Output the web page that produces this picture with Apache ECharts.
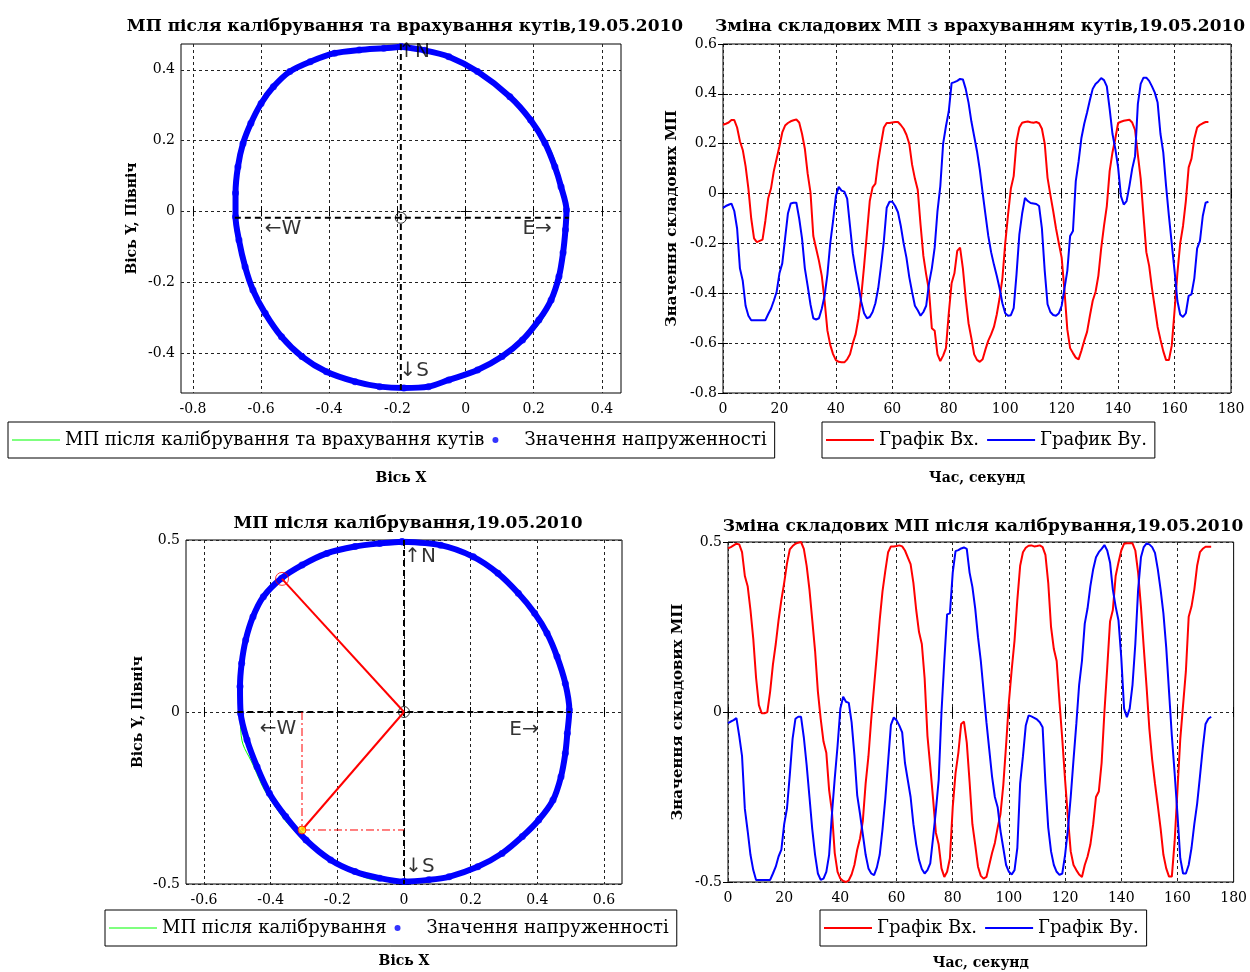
<!DOCTYPE html>
<html><head><meta charset="utf-8">
<script src="https://cdn.jsdelivr.net/npm/echarts@6/dist/echarts.min.js"></script>
<style>html,body{margin:0;padding:0;background:#fff}#c{width:1250px;height:972px}</style>
</head><body><div id="c"></div>
<script>
// ---------- data (sampled each second, 0..172 s) ----------
const seconds = Array.from({length:173},(_, i)=>i);

// Components after calibration and angle correction (top charts)
const bxTop = [0.276,0.28,0.285,0.295,0.295,0.265,0.21,0.175,0.11,0.02,
 -0.1,-0.18,-0.195,-0.19,-0.185,-0.11,-0.02,0.02,0.09,0.14,
 0.19,0.245,0.273,0.283,0.29,0.294,0.297,0.285,0.24,0.18,
 0.08,0.005,-0.17,-0.22,-0.27,-0.33,-0.43,-0.55,-0.607,-0.644,
 -0.668,-0.675,-0.677,-0.677,-0.665,-0.645,-0.6,-0.564,-0.5,-0.41,
 -0.29,-0.16,-0.03,0.025,0.04,0.13,0.2,0.265,0.283,0.283,
 0.285,0.287,0.287,0.275,0.26,0.236,0.2,0.116,0.06,0.015,
 -0.125,-0.25,-0.325,-0.39,-0.54,-0.55,-0.645,-0.672,-0.65,-0.62,
 -0.48,-0.36,-0.32,-0.23,-0.217,-0.3,-0.42,-0.52,-0.58,-0.645,
 -0.667,-0.675,-0.665,-0.625,-0.59,-0.565,-0.535,-0.485,-0.42,-0.34,
 -0.2,-0.085,0.02,0.07,0.209,0.265,0.284,0.287,0.289,0.286,
 0.284,0.287,0.282,0.26,0.2,0.063,-0.005,-0.07,-0.14,-0.2,
 -0.257,-0.39,-0.545,-0.62,-0.64,-0.658,-0.665,-0.63,-0.59,-0.555,
 -0.49,-0.43,-0.395,-0.33,-0.22,-0.13,-0.05,0.09,0.165,0.22,
 0.283,0.288,0.292,0.294,0.296,0.285,0.255,0.155,0.06,-0.09,
 -0.235,-0.29,-0.38,-0.457,-0.535,-0.585,-0.632,-0.668,-0.668,-0.61,
 -0.47,-0.32,-0.2,-0.13,-0.03,0.105,0.14,0.22,0.265,0.276,
 0.282,0.287,0.287];
const byTop = [-0.057,-0.05,-0.045,-0.04,-0.07,-0.14,-0.3,-0.35,-0.45,-0.49,
 -0.508,-0.508,-0.508,-0.508,-0.508,-0.508,-0.484,-0.462,-0.43,-0.395,
 -0.32,-0.28,-0.18,-0.08,-0.04,-0.037,-0.037,-0.1,-0.18,-0.3,
 -0.37,-0.445,-0.5,-0.505,-0.5,-0.462,-0.41,-0.324,-0.2,-0.11,
 -0.01,0.027,0.012,0.008,-0.02,-0.13,-0.24,-0.31,-0.37,-0.435,
 -0.48,-0.5,-0.495,-0.475,-0.44,-0.38,-0.29,-0.19,-0.057,-0.033,
 -0.033,-0.05,-0.075,-0.13,-0.2,-0.257,-0.335,-0.395,-0.45,-0.468,
 -0.49,-0.475,-0.45,-0.36,-0.3,-0.217,-0.07,0.03,0.2,0.27,
 0.33,0.443,0.447,0.452,0.46,0.458,0.42,0.365,0.29,0.23,
 0.17,0.095,0.003,-0.084,-0.17,-0.235,-0.285,-0.33,-0.38,-0.44,
 -0.48,-0.49,-0.488,-0.46,-0.324,-0.165,-0.08,-0.017,-0.03,-0.038,
 -0.04,-0.042,-0.05,-0.14,-0.31,-0.444,-0.475,-0.487,-0.49,-0.48,
 -0.45,-0.38,-0.31,-0.17,-0.15,0.05,0.129,0.223,0.28,0.325,
 0.375,0.42,0.44,0.45,0.463,0.455,0.43,0.34,0.24,0.18,
 0.105,-0.01,-0.044,-0.03,0.03,0.1,0.15,0.36,0.44,0.465,
 0.465,0.452,0.43,0.405,0.365,0.24,0.165,0.03,-0.09,-0.2,
 -0.31,-0.43,-0.485,-0.495,-0.48,-0.41,-0.404,-0.34,-0.22,-0.19,
 -0.09,-0.037,-0.033];

// Components after calibration (bottom charts)
const bxBot = [0.481,0.485,0.49,0.495,0.493,0.47,0.4,0.37,0.3,0.215,
 0.1,0.02,-0.004,-0.004,0.0,0.06,0.14,0.2,0.27,0.33,
 0.38,0.437,0.478,0.488,0.495,0.498,0.5,0.48,0.43,0.36,
 0.27,0.18,0.06,-0.02,-0.087,-0.12,-0.23,-0.293,-0.415,-0.47,
 -0.49,-0.497,-0.5,-0.495,-0.478,-0.45,-0.405,-0.372,-0.32,-0.21,
 -0.13,-0.02,0.075,0.17,0.27,0.355,0.415,0.47,0.487,0.487,
 0.488,0.49,0.487,0.475,0.455,0.435,0.38,0.3,0.235,0.2,
 0.099,-0.07,-0.16,-0.255,-0.355,-0.39,-0.46,-0.485,-0.47,-0.43,
 -0.28,-0.18,-0.12,-0.035,-0.028,-0.09,-0.205,-0.33,-0.39,-0.455,
 -0.482,-0.49,-0.485,-0.45,-0.415,-0.385,-0.34,-0.3,-0.215,-0.097,
 0.03,0.125,0.21,0.33,0.43,0.47,0.483,0.489,0.49,0.487,
 0.488,0.49,0.485,0.462,0.38,0.25,0.185,0.15,0.03,-0.08,
 -0.2,-0.31,-0.41,-0.45,-0.465,-0.478,-0.485,-0.45,-0.425,-0.39,
 -0.33,-0.25,-0.234,-0.15,0.0,0.13,0.266,0.3,0.4,0.44,
 0.475,0.495,0.496,0.496,0.496,0.475,0.41,0.31,0.19,0.075,
 -0.05,-0.14,-0.21,-0.275,-0.342,-0.42,-0.46,-0.484,-0.484,-0.38,
 -0.23,-0.08,0.02,0.12,0.28,0.31,0.36,0.43,0.47,0.48,
 0.486,0.486,0.486];
const byBot = [-0.033,-0.028,-0.024,-0.018,-0.07,-0.13,-0.285,-0.35,-0.42,-0.465,
 -0.494,-0.494,-0.494,-0.494,-0.494,-0.494,-0.475,-0.455,-0.425,-0.405,
 -0.33,-0.283,-0.185,-0.078,-0.02,-0.014,-0.014,-0.075,-0.156,-0.25,
 -0.345,-0.42,-0.475,-0.494,-0.49,-0.47,-0.42,-0.3,-0.195,-0.1,
 0.01,0.045,0.03,0.027,-0.03,-0.126,-0.245,-0.3,-0.36,-0.42,
 -0.46,-0.475,-0.48,-0.457,-0.42,-0.345,-0.255,-0.146,-0.038,-0.016,
 -0.024,-0.04,-0.06,-0.15,-0.2,-0.25,-0.33,-0.39,-0.435,-0.462,
 -0.475,-0.465,-0.445,-0.37,-0.29,-0.2,0.0,0.15,0.287,0.29,
 0.41,0.473,0.476,0.481,0.484,0.48,0.41,0.368,0.305,0.22,
 0.15,0.06,-0.03,-0.11,-0.19,-0.25,-0.28,-0.35,-0.4,-0.45,
 -0.47,-0.478,-0.465,-0.4,-0.21,-0.13,-0.04,-0.01,-0.013,-0.017,
 -0.022,-0.03,-0.045,-0.21,-0.34,-0.41,-0.45,-0.47,-0.479,-0.475,
 -0.42,-0.345,-0.25,-0.14,-0.035,0.08,0.15,0.26,0.305,0.37,
 0.42,0.455,0.47,0.48,0.491,0.475,0.44,0.36,0.31,0.27,
 0.16,0.01,-0.015,0.01,0.08,0.2,0.36,0.455,0.485,0.496,
 0.493,0.485,0.468,0.42,0.36,0.29,0.19,0.06,-0.07,-0.18,
 -0.3,-0.43,-0.475,-0.475,-0.45,-0.4,-0.33,-0.27,-0.19,-0.107,
 -0.035,-0.02,-0.014];

const ringTop = [[-0.189,0.465],[-0.12,0.455],[-0.049,0.437],[0.035,0.395],[0.13,0.324],[0.191,0.258],[0.233,0.193],
 [0.262,0.126],[0.28,0.07],[0.296,0.004],[0.293,-0.052],[0.286,-0.117],[0.274,-0.184],[0.251,-0.25],[0.215,-0.307],
 [0.167,-0.363],[0.107,-0.41],[0.035,-0.448],[-0.049,-0.476],[-0.109,-0.495],[-0.181,-0.499],[-0.252,-0.495],
 [-0.324,-0.481],[-0.408,-0.453],[-0.48,-0.41],[-0.54,-0.354],[-0.588,-0.288],[-0.624,-0.222],[-0.647,-0.156],
 [-0.665,-0.081],[-0.675,-0.015],[-0.675,0.052],[-0.668,0.126],[-0.653,0.192],[-0.63,0.249],[-0.6,0.305],
 [-0.564,0.352],[-0.516,0.395],[-0.456,0.423],[-0.384,0.447],[-0.312,0.456],[-0.24,0.461],[-0.189,0.465]];
const ringBot = [[-0.006,0.495],[0.11,0.485],[0.208,0.451],[0.282,0.403],[0.343,0.345],[0.392,0.287],[0.429,0.229],
 [0.459,0.161],[0.484,0.083],[0.496,0.006],[0.49,-0.062],[0.484,-0.12],[0.471,-0.188],[0.447,-0.256],[0.404,-0.314],
 [0.355,-0.362],[0.294,-0.411],[0.221,-0.45],[0.135,-0.479],[0.074,-0.488],[0.0,-0.493],[-0.073,-0.483],
 [-0.147,-0.464],[-0.22,-0.43],[-0.294,-0.372],[-0.355,-0.304],[-0.404,-0.236],[-0.441,-0.159],[-0.471,-0.081],
 [-0.49,-0.004],[-0.492,0.074],[-0.487,0.142],[-0.475,0.209],[-0.453,0.277],[-0.422,0.335],[-0.367,0.389],
 [-0.306,0.427],[-0.232,0.461],[-0.147,0.481],[-0.073,0.49],[-0.006,0.495]];

// Fitted field curves (green)
const fitTop = [[0.296,0.0],[0.27,0.12],[0.22,0.22],[0.13,0.324],[0.03,0.4],[-0.08,0.445],[-0.19,0.465],[-0.3,0.458],
 [-0.43,0.43],[-0.55,0.36],[-0.63,0.25],[-0.667,0.12],[-0.677,-0.02],[-0.66,-0.12],[-0.62,-0.23],[-0.54,-0.35],
 [-0.42,-0.445],[-0.3,-0.488],[-0.18,-0.502],[-0.06,-0.48],[0.06,-0.44],[0.17,-0.365],[0.25,-0.26],[0.285,-0.14],[0.296,0.0]];
const fitBot = [[0.498,0],[0.482,0.09],[0.45,0.18],[0.39,0.29],[0.29,0.4],[0.16,0.47],[0,0.497],[-0.15,0.482],
 [-0.3,0.43],[-0.42,0.335],[-0.475,0.21],[-0.493,0.07],[-0.49,-0.05],[-0.45,-0.16],[-0.39,-0.27],[-0.3,-0.37],
 [-0.18,-0.45],[-0.05,-0.49],[0.08,-0.488],[0.22,-0.45],[0.35,-0.365],[0.44,-0.26],[0.48,-0.14],[0.498,0]];

// Reference cross, centres, compass labels
const crossTopH = [[-0.677,-0.018],[0.303,-0.018]];
const crossTopV = [[-0.19,0.473],[-0.19,-0.513]];
const centreTop = [-0.19,-0.018];
const crossBotH = [[-0.5,0],[0.5,0]];
const crossBotV = [[0,0.5],[0,-0.5]];
const centreBot = [0,0];
const compassTop = [['↑N',-0.151,0.452],['←W',-0.536,-0.05],['E→',0.21,-0.05],['↓S',-0.151,-0.451]];
const compassBot = [['↑N',0.048,0.452],['←W',-0.378,-0.049],['E→',0.36,-0.052],['↓S',0.048,-0.45]];
// Angle construction (bottom-left)
const vecA = [[0,0],[-0.366,0.387]];
const vecB = [[0,0],[-0.306,-0.343]];
const projV = [[-0.306,0],[-0.306,-0.343]];
const projH = [[-0.306,-0.343],[0,-0.343]];

// Ticks
const xTicksTL = [-0.8,-0.6,-0.4,-0.2,0,0.2,0.4];
const yTicksTL = [-0.4,-0.2,0,0.2,0.4];
const xTicksBL = [-0.6,-0.4,-0.2,0,0.2,0.4,0.6];
const yTicksBL = [-0.5,0,0.5];

// ---------- chart ----------
const FONT = 'DejaVu Serif';
const zip = (a,b)=>a.map((v,i)=>[v,b[i]]);
const NFT = 'МП після калібрування та врахування кутів';
const NFB = 'МП після калібрування';
const ND = 'Значення напруженності';
const NBX = 'Графік Вх.';
const NBY1 = 'График Ву.';
const NBY2 = 'Графік Ву.';

function axis(kind, gi, cfg, mirror){
  const a = {
    type:'value', gridIndex:gi, min:cfg.min, max:cfg.max,
    position: mirror ? (kind==='x'?'top':'right') : (kind==='x'?'bottom':'left'),
    axisLine:{show:false},
    axisTick:{show:true, inside:true, length:5, lineStyle:{color:'#000'}},
    axisLabel:{show:!mirror, color:'#000', fontFamily:FONT, fontSize:14, margin:kind==='x'?9:6},
    splitLine:{show:!mirror, lineStyle:{color:'#222', type:[3,3], width:1}}
  };
  if (cfg.ticks){ a.axisTick.customValues = cfg.ticks; a.axisLabel.customValues = cfg.ticks; }
  else a.interval = cfg.interval;
  if (!mirror && cfg.name){
    a.name = cfg.name; a.nameLocation='middle'; a.nameGap = cfg.gap;
    a.nameTextStyle = {fontFamily:FONT, fontWeight:'bold', fontSize:cfg.nfs||14, color:'#000'};
  }
  return a;
}
const xc = [
  {min:-0.835,max:0.456,ticks:xTicksTL,name:'Вісь X',gap:78},
  {min:0,max:180,interval:20,name:'Час, секунд',gap:78},
  {min:-0.654,max:0.654,ticks:xTicksBL,name:'Вісь X',gap:70},
  {min:0,max:180,interval:20,name:'Час, секунд',gap:74}
];
const yc = [
  {min:-0.513,max:0.473,ticks:yTicksTL,name:'Вісь Y, Північ',gap:42},
  {min:-0.8,max:0.6,interval:0.2,name:'Значення складових МП',gap:43,nfs:15},
  {min:-0.5,max:0.5,ticks:yTicksBL,name:'Вісь Y, Північ',gap:41},
  {min:-0.5,max:0.5,interval:0.5,name:'Значення складових МП',gap:42,nfs:15}
];
const xAxes = xc.map((c,i)=>axis('x',i,c,false)).concat(xc.map((c,i)=>axis('x',i,c,true)));
const yAxes = yc.map((c,i)=>axis('y',i,c,false)).concat(yc.map((c,i)=>axis('y',i,c,true)));

const gridBase = {show:true, borderColor:'#000', borderWidth:1, backgroundColor:'#fff'};
const grids = [
  Object.assign({left:181, top:44, width:440, height:349}, gridBase),
  Object.assign({left:723, top:44, width:508, height:349}, gridBase),
  Object.assign({left:186, top:540, width:436, height:344}, gridBase),
  Object.assign({left:728, top:542, width:509, height:340}, gridBase)
];

function seg(name, gi, data, color, width, type, z){
  return {type:'line', name, xAxisIndex:gi, yAxisIndex:gi, data, symbol:'none', silent:true,
    lineStyle:{color, width, type}, z:z||4, animation:false};
}
function circleSeries(gi, fit, fitName, ring, centre, crossH, crossV, compass){
  return [
    {type:'line', name:'band'+gi, xAxisIndex:gi, yAxisIndex:gi, data:ring, smooth:0.3, symbol:'none',
      lineStyle:{color:'#0000ff', width:6}, z:2, animation:false, silent:true},
    {type:'scatter', name:ND, xAxisIndex:gi, yAxisIndex:gi, data:ring, symbol:'circle', symbolSize:7,
      itemStyle:{color:'#0000ff'}, z:2, animation:false},
    {type:'line', name:fitName, xAxisIndex:gi, yAxisIndex:gi, data:fit, smooth:true, symbol:'none',
      lineStyle:{color:'#00ff00', width:1}, itemStyle:{color:'#00ff00'}, z:1, animation:false},
    seg('crossH'+gi, gi, crossH, '#000', 2, [6,4], 5),
    seg('crossV'+gi, gi, crossV, '#000', 2, [6,4], 5),
    {type:'scatter', name:'centre'+gi, xAxisIndex:gi, yAxisIndex:gi, data:[centre], symbol:'circle', symbolSize:11,
      itemStyle:{color:'rgba(0,0,0,0)', borderColor:'#000', borderWidth:1}, z:6, silent:true, animation:false},
    {type:'scatter', name:'compass'+gi, xAxisIndex:gi, yAxisIndex:gi, symbolSize:1,
      data:compass.map(c=>({name:c[0], value:[c[1],c[2]]})),
      itemStyle:{color:'rgba(0,0,0,0)'}, z:7, silent:true, animation:false,
      label:{show:true, position:'inside', formatter:p=>p.name, fontFamily:'DejaVu Sans', fontSize:20, color:'#000'}}
  ];
}

function tsSeries(name, gi, vals, color){
  return {type:'line', name, xAxisIndex:gi, yAxisIndex:gi, data:zip(seconds, vals), symbol:'none',
    lineStyle:{color, width:2}, itemStyle:{color}, animation:false};
}

const series = [].concat(
  circleSeries(0, fitTop, NFT, ringTop, centreTop, crossTopH, crossTopV, compassTop),
  circleSeries(2, fitBot, NFB, ringBot, centreBot, crossBotH, crossBotV, compassBot),
  [
    seg('vecA', 2, vecA, '#ff0000', 2, 'solid', 8),
    seg('vecB', 2, vecB, '#ff0000', 2, 'solid', 8),
    seg('projV', 2, projV, '#ff0000', 1, [8,3,2,3], 8),
    seg('projH', 2, projH, '#ff0000', 1, [8,3,2,3], 8),
    {type:'scatter', name:'markA', xAxisIndex:2, yAxisIndex:2, data:[vecA[1]], symbolSize:13,
      itemStyle:{color:'rgba(0,0,0,0)', borderColor:'#ff0000', borderWidth:1}, z:9, silent:true, animation:false},
    {type:'scatter', name:'markB', xAxisIndex:2, yAxisIndex:2, data:[vecB[1]], symbolSize:8,
      itemStyle:{color:'#ffee00', borderColor:'#ff0000', borderWidth:1}, z:9, silent:true, animation:false},
    tsSeries(NBX, 1, bxTop, '#ff0000'),
    tsSeries(NBY1, 1, byTop, '#0000ff'),
    tsSeries(NBX, 3, bxBot, '#ff0000'),
    tsSeries(NBY2, 3, byBot, '#0000ff')
  ]
);

const LINE1 = 'path://M0,0H48V1H0Z';
const LINE2 = 'path://M0,0H48V2.2H0Z';
const legBase = {orient:'horizontal', borderColor:'#000', borderWidth:1, padding:[9,8,9,4], itemGap:8,
  itemWidth:48, itemHeight:6, selectedMode:false, backgroundColor:'#fff',
  textStyle:{fontFamily:FONT, fontSize:18, color:'#000'}};
const legends = [
  Object.assign({left:8, top:422, data:[{name:NFT, icon:LINE1}, {name:ND, icon:'circle'}]}, legBase),
  Object.assign({left:822, top:422, data:[{name:NBX, icon:LINE2}, {name:NBY1, icon:LINE2}]}, legBase),
  Object.assign({left:105, top:910, data:[{name:NFB, icon:LINE1}, {name:ND, icon:'circle'}]}, legBase),
  Object.assign({left:820, top:910, data:[{name:NBX, icon:LINE2}, {name:NBY2, icon:LINE2}]}, legBase)
];
const tStyle = {fontFamily:FONT, fontWeight:'bold', fontSize:17, color:'#000'};
const titles = [
  {text:'МП після калібрування та врахування кутів,19.05.2010', left:400, top:13, textAlign:'center', textStyle:tStyle},
  {text:'Зміна складових МП з врахуванням кутів,19.05.2010', left:975, top:13, textAlign:'center', textStyle:tStyle},
  {text:'МП після калібрування,19.05.2010', left:403, top:510, textAlign:'center', textStyle:tStyle},
  {text:'Зміна складових МП після калібрування,19.05.2010', left:978, top:513, textAlign:'center', textStyle:tStyle}
];

const chart = echarts.init(document.getElementById('c'), null, {renderer:'canvas'});
chart.setOption({
  backgroundColor:'#fff', animation:false,
  title:titles, legend:legends, grid:grids, xAxis:xAxes, yAxis:yAxes, series
});
</script></body></html>
